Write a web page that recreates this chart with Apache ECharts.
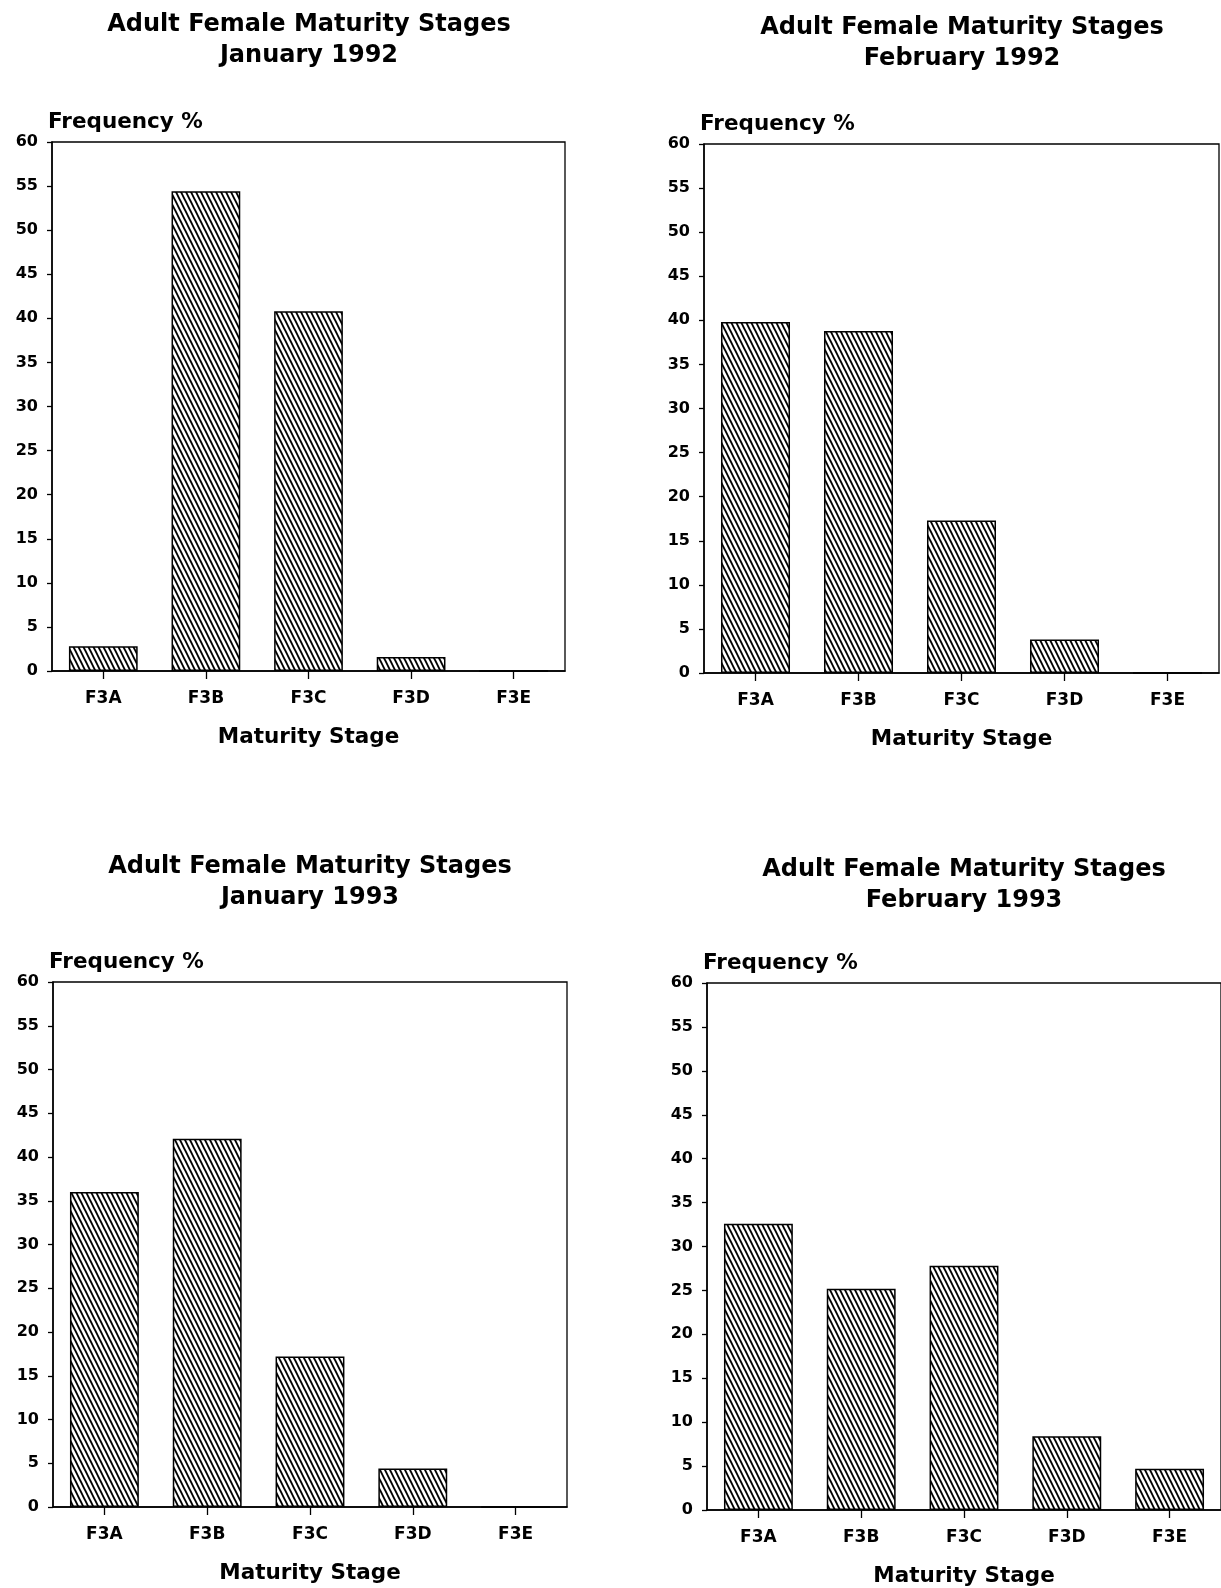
<!DOCTYPE html>
<html>
<head>
<meta charset="utf-8">
<title>Adult Female Maturity Stages</title>
<script src="https://cdn.jsdelivr.net/npm/echarts@6/dist/echarts.min.js"></script>
<style>
  html, body { margin: 0; padding: 0; background: #fff; }
  #chart { width: 1221px; height: 1588px; }
</style>
</head>
<body>
<div id="chart"></div>
<script>
// Maturity stage categories shared by all four panels
const stages = ['F3A', 'F3B', 'F3C', 'F3D', 'F3E'];

// Frequency (%) of adult females in each stage
const jan1992 = [2.8, 54.4, 40.8, 1.6, 0];
const feb1992 = [39.8, 38.8, 17.3, 3.8, 0];
const jan1993 = [36.0, 42.1, 17.2, 4.4, 0];
const feb1993 = [32.6, 25.2, 27.8, 8.4, 4.7];

const panelTitles = ['January 1992', 'February 1992', 'January 1993', 'February 1993'];
const panelData = [jan1992, feb1992, jan1993, feb1993];

// y-axis ticks: 0..60 in steps of 5
const yMin = 0, yMax = 60, yStep = 5;

// Panel frames (px)
const frames = [
  { left: 52,  top: 142, width: 513, height: 529, cx: 304, ty: 4 },
  { left: 704, top: 144, width: 515, height: 529, cx: 957, ty: 7 },
  { left: 53,  top: 982, width: 514, height: 525, cx: 305, ty: 846 },
  { left: 707, top: 983, width: 516, height: 528, cx: 959, ty: 849 }
];

const FONT = '"DejaVu Sans", "Liberation Sans", Arial, sans-serif';

// Diagonal hatch fill (lines running from upper-left to lower-right)
function makeHatch() {
  const c = document.createElement('canvas');
  c.width = 5; c.height = 10;
  const ctx = c.getContext('2d');
  ctx.fillStyle = '#fff';
  ctx.fillRect(0, 0, 5, 10);
  ctx.strokeStyle = '#000';
  ctx.lineWidth = 1.9;
  for (let k = -2; k <= 2; k++) {
    ctx.beginPath();
    ctx.moveTo(k * 5 - 5, -10);
    ctx.lineTo(k * 5 + 10, 20);
    ctx.stroke();
  }
  return c;
}
const hatch = makeHatch();

const chart = echarts.init(document.getElementById('chart'), null, { renderer: 'canvas' });

const option = {
  backgroundColor: '#fff',
  animation: false,
  title: [],
  grid: [],
  xAxis: [],
  yAxis: [],
  series: []
};

frames.forEach((f, i) => {
  option.title.push({
    text: 'Adult Female Maturity Stages\n' + panelTitles[i],
    left: f.cx,
    top: f.ty,
    textAlign: 'center',
    textStyle: {
      fontFamily: FONT, fontWeight: 'bold', fontSize: 24,
      lineHeight: 31, color: '#000'
    }
  });
  option.grid.push({
    left: f.left, top: f.top, width: f.width, height: f.height,
    show: true, borderColor: '#000', borderWidth: 1.3,
    backgroundColor: 'transparent', containLabel: false
  });
  option.xAxis.push({
    type: 'category',
    gridIndex: i,
    data: stages,
    name: 'Maturity Stage',
    nameLocation: 'middle',
    nameGap: 55,
    nameTextStyle: { fontFamily: FONT, fontWeight: 'bold', fontSize: 21.5, color: '#000' },
    axisLine: { show: true, lineStyle: { color: '#000', width: 1.5 } },
    axisTick: { show: true, alignWithLabel: true, length: 8, lineStyle: { color: '#000', width: 1.3 } },
    axisLabel: { margin: 19, fontFamily: FONT, fontWeight: 'bold', fontSize: 17, color: '#000' },
    splitLine: { show: false }
  });
  option.yAxis.push({
    type: 'value',
    gridIndex: i,
    min: yMin, max: yMax, interval: yStep,
    name: 'Frequency %',
    nameLocation: 'end',
    nameGap: 9,
    nameTextStyle: {
      fontFamily: FONT, fontWeight: 'bold', fontSize: 21.5, color: '#000',
      align: 'left', verticalAlign: 'bottom', padding: [0, 0, 0, -4]
    },
    axisLine: { show: true, lineStyle: { color: '#000', width: 1.5 } },
    axisTick: { show: true, length: 5, lineStyle: { color: '#000', width: 1.3 } },
    axisLabel: { margin: 14, fontFamily: FONT, fontWeight: 'bold', fontSize: 16, color: '#000' },
    splitLine: { show: false }
  });
  option.series.push({
    type: 'bar',
    xAxisIndex: i,
    yAxisIndex: i,
    data: panelData[i],
    barCategoryGap: '33%',
    itemStyle: {
      color: { image: hatch, repeat: 'repeat' },
      borderColor: '#000',
      borderWidth: 1.5
    },
    emphasis: { disabled: true }
  });
});

chart.setOption(option);
</script>
</body>
</html>
